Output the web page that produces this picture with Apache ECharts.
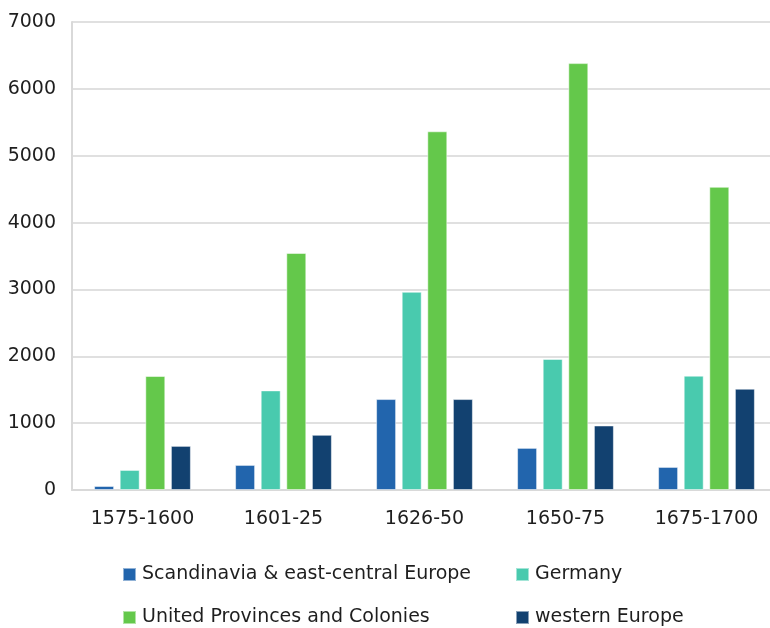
<!DOCTYPE html>
<html><head><meta charset="utf-8">
<script src="https://cdn.jsdelivr.net/npm/echarts@6/dist/echarts.min.js"></script>
<style>html,body{margin:0;padding:0;background:#fff;overflow:hidden;width:770px;height:628px}#c{width:780px;height:628px}</style>
</head><body><div id="c"></div>
<script>
const categories = ['1575-1600','1601-25','1626-50','1650-75','1675-1700'];
const seriesNames = ['Scandinavia & east-central Europe','Germany','United Provinces and Colonies','western Europe'];
const scandinavia = [60, 375, 1360, 630, 345];
const germany = [300, 1490, 2965, 1960, 1710];
const unitedProvinces = [1705, 3545, 5365, 6385, 4535];
const westernEurope = [660, 825, 1360, 965, 1515];
const yTicks = [0,1000,2000,3000,4000,5000,6000,7000];

const colors = ['#2265AD','#49CAAE','#64C84B','#124170'];
const dataSets = [scandinavia, germany, unitedProvinces, westernEurope];
const font = 'DejaVu Sans';
const chart = echarts.init(document.getElementById('c'));
const legendPos = [[122,565],[515,565],[122,608],[515,608]];
chart.setOption({
  animation:false,
  color: colors,
  grid:{left:72, right:3, top:22, bottom:138},
  legend: legendPos.map((p,i)=>({
    data:[seriesNames[i]], left:p[0], top:p[1], itemWidth:13, itemHeight:13, itemGap:0,
    icon:'rect', textStyle:{fontFamily:font, fontSize:19, color:'#1e1e1e', padding:[0,0,0,1]}, padding:0
  })),
  xAxis:{type:'category', data:categories,
    axisLine:{lineStyle:{color:'#d9d9d9', width:2}}, axisTick:{show:false},
    axisLabel:{fontFamily:font, fontSize:19, color:'#1e1e1e', margin:20}},
  yAxis:{type:'value', min:0, max:7000, interval:1000,
    axisLine:{show:true, lineStyle:{color:'#d9d9d9', width:2}},
    splitLine:{lineStyle:{color:'#e0e0e0', width:2}},
    axisLabel:{fontFamily:font, fontSize:19, color:'#1e1e1e', margin:16,
      formatter:v=>yTicks.includes(v)?String(v):''}},
  series: dataSets.map((d,i)=>({
    name:seriesNames[i], type:'bar', data:d, barWidth:20, barGap:'28%',
    itemStyle:{color:colors[i], borderColor:'rgba(255,255,255,0.5)', borderWidth:1}
  }))
});
</script></body></html>
